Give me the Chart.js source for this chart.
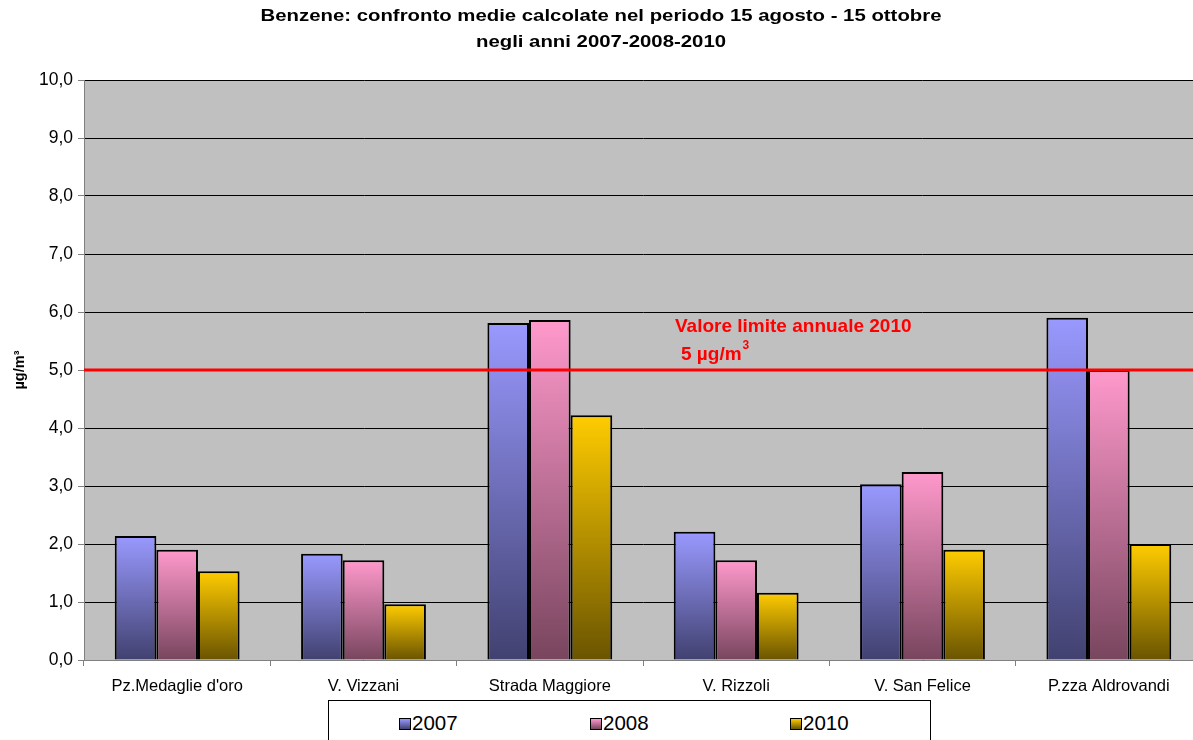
<!DOCTYPE html>
<html>
<head>
<meta charset="utf-8">
<script src="https://cdn.jsdelivr.net/npm/chart.js@4"></script>
<style>
  html, body { margin: 0; padding: 0; overflow: hidden; background: #fff; }
  #wrap { position: relative; width: 1202px; height: 740px; }
  #legend { position: absolute; left: 328px; top: 700px; width: 601px; height: 60px;
            border: 1px solid #000; background: #fff; font-family: "Liberation Sans", Arial, sans-serif; font-size: 20.5px; }
  .item { position: absolute; top: 10px; height: 24px; line-height: 24px; white-space: nowrap; }
  .sw { display: inline-block; width: 10px; height: 10px; border: 1px solid #000; vertical-align: 0px; margin-right: 1px; }
</style>
</head>
<body>
<div id="wrap">
  <canvas id="c" width="1202" height="740"></canvas>
  <div id="legend"></div>
</div>
<script>
const categories = ["Pz.Medaglie d'oro", "V. Vizzani", "Strada Maggiore", "V. Rizzoli", "V. San Felice", "P.zza Aldrovandi"];
const seriesNames = ["2007", "2008", "2010"];
const values2007 = [2.14, 1.83, 5.81, 2.21, 3.03, 5.90];
const values2008 = [1.90, 1.72, 5.86, 1.72, 3.24, 5.00];
const values2010 = [1.53, 0.96, 4.22, 1.16, 1.90, 2.00];
const limitValue = 5;
const yTicks = [0,1,2,3,4,5,6,7,8,9,10];
const titleLines = ["Benzene: confronto medie calcolate nel periodo 15 agosto - 15 ottobre", "negli anni 2007-2008-2010"];
const limitLabel = "Valore limite annuale 2010";
const limitSub = "5 µg/m";

const palette = [
  { top: "#9999FF", bottom: "#414170", mid: "#6F6FB8" },
  { top: "#FF99CC", bottom: "#78455E", mid: "#C07098" },
  { top: "#FFCC00", bottom: "#6A5400", mid: "#B89200" }
];
const FONT = '"Liberation Sans", Arial, sans-serif';

function gradFor(i) {
  return function(ctx) {
    const chart = ctx.chart;
    const p = palette[i];
    if (ctx.type !== 'data' || !chart.scales || !chart.scales.y) return p.mid;
    const y = chart.scales.y;
    const yt = y.getPixelForValue(ctx.raw);
    const yb = y.getPixelForValue(0);
    if (!isFinite(yt) || !isFinite(yb) || yt === yb) return p.mid;
    const g = chart.ctx.createLinearGradient(0, yt, 0, yb);
    g.addColorStop(0, p.top);
    g.addColorStop(1, p.bottom);
    return g;
  };
}

const bgPlugin = {
  id: 'bg',
  beforeDraw(chart) {
    const { ctx, chartArea: a } = chart;
    ctx.save();
    ctx.fillStyle = '#C0C0C0';
    ctx.fillRect(a.left, a.top, a.right - a.left, a.bottom - a.top);
    ctx.restore();
  }
};

const titlePlugin = {
  id: 'stretchTitle',
  afterDraw(chart) {
    const { ctx } = chart;
    const cx = chart.width / 2;
    ctx.save();
    ctx.font = 'bold 17px ' + FONT;
    ctx.fillStyle = '#000';
    ctx.textAlign = 'center';
    ctx.textBaseline = 'alphabetic';
    const w = ctx.measureText(titleLines[0]).width;
    const sx = 681 / w;
    ctx.translate(cx, 0);
    ctx.scale(sx, 1);
    ctx.fillText(titleLines[0], 0, 21);
    ctx.fillText(titleLines[1], 0, 47);
    ctx.restore();
  }
};

const limitPlugin = {
  id: 'limit',
  afterDatasetsDraw(chart) {
    const { ctx, chartArea: a, scales: { x, y } } = chart;
    const py = y.getPixelForValue(limitValue);
    ctx.save();
    ctx.strokeStyle = '#FF0000';
    ctx.lineWidth = 3;
    ctx.beginPath();
    ctx.moveTo(a.left, py);
    ctx.lineTo(a.right, py);
    ctx.stroke();
    const px = x.getPixelForValue(2.5) + 32;
    ctx.fillStyle = '#FF0000';
    ctx.font = 'bold 19px ' + FONT;
    ctx.textBaseline = 'middle';
    ctx.textAlign = 'left';
    ctx.fillText(limitLabel, px, py - 43);
    ctx.fillText(limitSub, px + 6, py - 15);
    const w = ctx.measureText(limitSub).width;
    ctx.font = 'bold 12px ' + FONT;
    ctx.fillText('3', px + 6 + w + 1, py - 24);
    ctx.restore();
  }
};

const chart = new Chart(document.getElementById('c'), {
  type: 'bar',
  data: {
    labels: categories,
    datasets: [values2007, values2008, values2010].map((d, i) => ({
      label: seriesNames[i],
      data: d,
      backgroundColor: gradFor(i),
      borderColor: '#000',
      borderWidth: 2,
      borderSkipped: 'bottom',
      categoryPercentage: 0.67,
      barPercentage: 1.0
    }))
  },
  options: {
    responsive: false,
    animation: false,
    devicePixelRatio: 1,
    layout: { padding: { left: 0, right: 0, top: 80, bottom: 0 } },
    plugins: {
      legend: { display: false },
      tooltip: { enabled: false },
      title: { display: false }
    },
    scales: {
      x: {
        grid: { display: true, drawOnChartArea: false, drawTicks: true, tickLength: 6, color: '#808080', offset: true },
        border: { display: true, color: '#808080', width: 1 },
        ticks: { color: '#000', font: { family: FONT, size: 16.5 }, padding: 11, maxRotation: 0, autoSkip: false },
        afterFit(s) { s.height = 80; }
      },
      y: {
        min: 0, max: 10,
        afterBuildTicks(s) { s.ticks = yTicks.map(v => ({ value: v })); },
        grid: { color: '#000', lineWidth: 1, drawTicks: true, tickLength: 6, tickColor: '#808080' },
        border: { display: true, color: '#808080', width: 1 },
        ticks: { color: '#000', font: { family: FONT, size: 17.5 }, padding: 5,
                 callback: v => v.toFixed(1).replace('.', ',') },
        title: { display: true, text: 'µg/m³', color: '#000', font: { family: FONT, size: 14.5, weight: 'bold' }, padding: { top: 11, bottom: 8 } },
        afterFit(s) { s.width = 84; }
      }
    }
  },
  plugins: [bgPlugin, limitPlugin, titlePlugin]
});

// HTML legend
const legendPos = [70, 261, 461];
const lg = document.getElementById('legend');
seriesNames.forEach((n, i) => {
  const it = document.createElement('div');
  it.className = 'item';
  it.style.left = legendPos[i] + 'px';
  const sw = document.createElement('span');
  sw.className = 'sw';
  sw.style.background = 'linear-gradient(' + palette[i].top + ',' + palette[i].bottom + ')';
  it.appendChild(sw);
  it.appendChild(document.createTextNode(n));
  lg.appendChild(it);
});
</script>
</body>
</html>
